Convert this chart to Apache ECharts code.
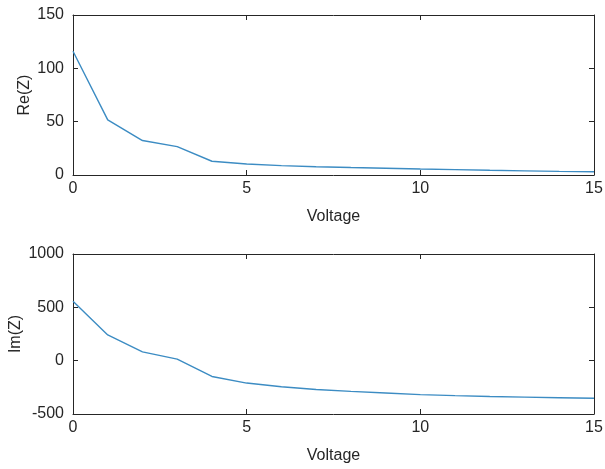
<!DOCTYPE html>
<html><head><meta charset="utf-8">
<script src="https://cdn.jsdelivr.net/npm/echarts@6/dist/echarts.min.js"></script>
<style>html,body{margin:0;padding:0;background:#fff}#c{width:605px;height:469px}</style>
</head><body><div id="c"></div>
<script>
const voltage = [0,1,2,3,4,5,6,7,8,9,10,11,12,13,14,15];
const reZ = [116,51.7,32.3,26.6,12.9,10.3,8.8,7.8,7,6.3,5.6,5,4.4,3.9,3.4,3];
const imZ = [556,241,83,15,-148,-210,-245,-270,-288,-303,-318,-328,-336,-342,-348,-353];
const xTicks = [0,5,10,15];
const reTicks = [0,50,100,150];
const imTicks = [-500,0,500,1000];

const font = 'Liberation Sans, Arial, sans-serif';
const ax = '#262626';
const lineColor = '#3c8cc3';

function xAxes(gi){
  return [{
    type:'value', gridIndex:gi, min:xTicks[0], max:xTicks[3], interval:xTicks[1]-xTicks[0], position:'bottom',
    axisLine:{show:true,onZero:false,lineStyle:{color:ax,width:1}},
    axisTick:{show:true,inside:true,length:5,lineStyle:{color:ax}},
    axisLabel:{color:ax,fontSize:16,fontFamily:font,margin:6,formatter:v=>String(v)},
    splitLine:{show:false},
    name:'Voltage', nameLocation:'middle', nameGap:34, nameMoveOverlap:false,
    nameTextStyle:{color:ax,fontSize:16,fontFamily:font}
  },{
    type:'value', gridIndex:gi, min:xTicks[0], max:xTicks[3], interval:xTicks[1]-xTicks[0], position:'top',
    axisLine:{show:true,onZero:false,lineStyle:{color:ax,width:1}},
    axisTick:{show:true,inside:true,length:5,lineStyle:{color:ax}},
    axisLabel:{show:false}, splitLine:{show:false}
  }];
}
function yAxes(gi,ticks,name,gap){
  const min=ticks[0], max=ticks[ticks.length-1], interval=ticks[1]-ticks[0];
  return [{
    type:'value', gridIndex:gi, min:min, max:max, interval:interval, position:'left',
    axisLine:{show:true,onZero:false,lineStyle:{color:ax,width:1}},
    axisTick:{show:true,inside:true,length:5,lineStyle:{color:ax}},
    axisLabel:{color:ax,fontSize:16,fontFamily:font,margin:9,formatter:v=>String(v)},
    splitLine:{show:false},
    name:name, nameLocation:'middle', nameGap:gap, nameMoveOverlap:false,
    nameTextStyle:{color:ax,fontSize:16,fontFamily:font}
  },{
    type:'value', gridIndex:gi, min:min, max:max, interval:interval, position:'right',
    axisLine:{show:true,onZero:false,lineStyle:{color:ax,width:1}},
    axisTick:{show:true,inside:true,length:5,lineStyle:{color:ax}},
    axisLabel:{show:false}, splitLine:{show:false}
  }];
}

const chart = echarts.init(document.getElementById('c'), null, {renderer:'canvas'});
chart.setOption({
  animation:false,
  backgroundColor:'#fff',
  grid:[
    {left:73, width:521, top:15, height:160, containLabel:false, outerBoundsMode:'none'},
    {left:73, width:521, top:254, height:160, containLabel:false, outerBoundsMode:'none'}
  ],
  xAxis:[...xAxes(0), ...xAxes(1)],
  yAxis:[...yAxes(0,reTicks,'Re(Z)',40), ...yAxes(1,imTicks,'Im(Z)',49)],
  series:[
    {type:'line', xAxisIndex:0, yAxisIndex:0, data:voltage.map((v,i)=>[v,reZ[i]]),
     showSymbol:false, lineStyle:{color:lineColor,width:1.4}},
    {type:'line', xAxisIndex:2, yAxisIndex:2, data:voltage.map((v,i)=>[v,imZ[i]]),
     showSymbol:false, lineStyle:{color:lineColor,width:1.4}}
  ]
});
</script></body></html>
